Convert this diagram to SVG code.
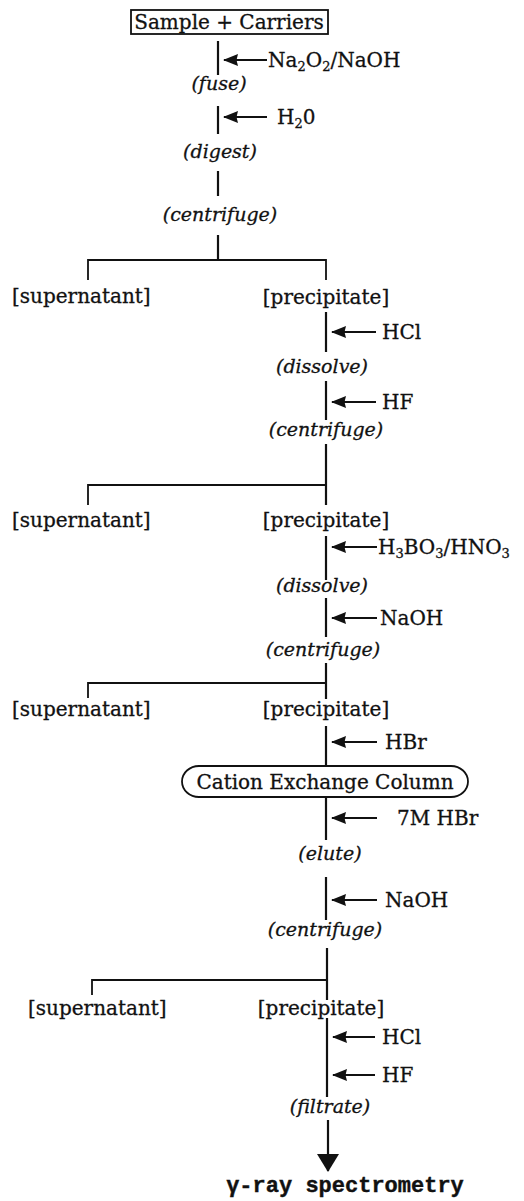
<svg xmlns="http://www.w3.org/2000/svg" width="524" height="1201" viewBox="0 0 524 1201">
<style>
.t{font-family:"DejaVu Serif","Liberation Serif",serif;font-size:20px;fill:#111;stroke:#111;stroke-width:0.3}
.i{font-family:"DejaVu Serif","Liberation Serif",serif;font-size:19px;font-style:italic;fill:#111;stroke:#111;stroke-width:0.3}
.s{font-size:13px}
.g{font-family:"Liberation Mono","DejaVu Sans Mono",monospace;font-size:22px;font-weight:bold;fill:#111;stroke:#111;stroke-width:0.4}
.l{stroke:#111;stroke-width:2.2;fill:none}
.h{stroke:#111;stroke-width:1.8;fill:none}
.a{stroke:#111;stroke-width:2.2;fill:none;marker-end:url(#ah)}
.b{stroke:#111;stroke-width:2.2;fill:none;marker-end:url(#ab)}
</style>
<defs>
<marker id="ah" viewBox="0 0 15 12" refX="14" refY="6" markerWidth="15" markerHeight="12" markerUnits="userSpaceOnUse" orient="auto">
<path d="M0,0 L15,6 L0,12 L1.5,6 Z" fill="#111"/>
</marker>
<marker id="ab" viewBox="0 0 18 22" refX="17" refY="11" markerWidth="18" markerHeight="22" markerUnits="userSpaceOnUse" orient="auto">
<path d="M0,0 L18,11 L0,22 Z" fill="#111"/>
</marker>
</defs>
<rect width="524" height="1201" fill="#fff"/>

<g id="connectors">
<line class="l" x1="218" y1="41" x2="218" y2="75"/>
<line class="a" x1="267" y1="60" x2="224" y2="60"/>
<line class="l" x1="218" y1="106" x2="218" y2="134"/>
<line class="a" x1="267" y1="117" x2="224" y2="117"/>
<line class="l" x1="218" y1="171" x2="218" y2="196"/>
<line class="l" x1="218" y1="235" x2="218" y2="261"/>
<polyline class="h" points="88,280 88,260 326,260 326,280"/>
<line class="l" x1="326" y1="312" x2="326" y2="352"/>
<line class="a" x1="376" y1="332" x2="332" y2="332"/>
<line class="l" x1="326" y1="381" x2="326" y2="420"/>
<line class="a" x1="376" y1="402" x2="332" y2="402"/>
<line class="l" x1="326" y1="444" x2="326" y2="505"/>
<polyline class="h" points="88,505 88,485 326,485"/>
<line class="l" x1="326" y1="536" x2="326" y2="580"/>
<line class="a" x1="377" y1="547" x2="332" y2="547"/>
<line class="l" x1="326" y1="598" x2="326" y2="637"/>
<line class="a" x1="377" y1="618" x2="332" y2="618"/>
<line class="l" x1="326" y1="663" x2="326" y2="699"/>
<polyline class="h" points="88,698 88,683 326,683"/>
<line class="l" x1="326" y1="726" x2="326" y2="766"/>
<line class="a" x1="377" y1="742" x2="332" y2="742"/>
<line class="l" x1="326" y1="798" x2="326" y2="840"/>
<line class="a" x1="377" y1="818" x2="332" y2="818"/>
<line class="l" x1="326" y1="877" x2="326" y2="920"/>
<line class="a" x1="377" y1="900" x2="332" y2="900"/>
<line class="l" x1="327" y1="948" x2="327" y2="1000"/>
<polyline class="h" points="92,995 92,980 327,980"/>
<line class="l" x1="327" y1="1018" x2="327" y2="1097"/>
<line class="a" x1="375" y1="1037" x2="333" y2="1037"/>
<line class="a" x1="375" y1="1075" x2="333" y2="1075"/>
<line class="b" x1="328" y1="1120" x2="328" y2="1171"/>
</g>

<g id="n-sample">
<rect x="131" y="10" width="197" height="24" fill="none" stroke="#111" stroke-width="1.8"/>
<text class="t" x="229" y="29" text-anchor="middle">Sample + Carriers</text>
</g>
<g id="r-na2o2"><text class="t" x="268" y="67">Na<tspan class="s" dy="4">2</tspan><tspan dy="-4">O</tspan><tspan class="s" dy="4">2</tspan><tspan dy="-4">/NaOH</tspan></text></g>
<g id="s-fuse"><text class="i" x="219" y="90" text-anchor="middle">(fuse)</text></g>
<g id="r-h2o"><text class="t" x="277" y="124">H<tspan class="s" dy="4">2</tspan><tspan dy="-4">0</tspan></text></g>
<g id="s-digest"><text class="i" x="220" y="158" text-anchor="middle">(digest)</text></g>
<g id="s-centrifuge1"><text class="i" x="220" y="221" text-anchor="middle">(centrifuge)</text></g>

<g id="n-super1"><text class="t" x="12" y="303">[supernatant]</text></g>
<g id="n-precip1"><text class="t" x="326" y="304" text-anchor="middle">[precipitate]</text></g>
<g id="r-hcl1"><text class="t" x="382" y="339">HCl</text></g>
<g id="s-dissolve1"><text class="i" x="322" y="373" text-anchor="middle">(dissolve)</text></g>
<g id="r-hf1"><text class="t" x="382" y="409">HF</text></g>
<g id="s-centrifuge2"><text class="i" x="326" y="436" text-anchor="middle">(centrifuge)</text></g>

<g id="n-super2"><text class="t" x="12" y="527">[supernatant]</text></g>
<g id="n-precip2"><text class="t" x="326" y="527" text-anchor="middle">[precipitate]</text></g>
<g id="r-h3bo3"><text class="t" x="378" y="554">H<tspan class="s" dy="4">3</tspan><tspan dy="-4">BO</tspan><tspan class="s" dy="4">3</tspan><tspan dy="-4">/HNO</tspan><tspan class="s" dy="4">3</tspan></text></g>
<g id="s-dissolve2"><text class="i" x="322" y="592" text-anchor="middle">(dissolve)</text></g>
<g id="r-naoh1"><text class="t" x="380" y="625">NaOH</text></g>
<g id="s-centrifuge3"><text class="i" x="323" y="656" text-anchor="middle">(centrifuge)</text></g>

<g id="n-super3"><text class="t" x="12" y="716">[supernatant]</text></g>
<g id="n-precip3"><text class="t" x="326" y="716" text-anchor="middle">[precipitate]</text></g>
<g id="r-hbr"><text class="t" x="385" y="749">HBr</text></g>
<g id="n-column">
<rect x="182" y="766" width="286" height="31" rx="17" ry="15.5" fill="none" stroke="#111" stroke-width="1.8"/>
<text class="t" x="325" y="789" text-anchor="middle">Cation Exchange Column</text>
</g>
<g id="r-7mhbr"><text class="t" x="397" y="825">7M HBr</text></g>
<g id="s-elute"><text class="i" x="330" y="860" text-anchor="middle">(elute)</text></g>
<g id="r-naoh2"><text class="t" x="385" y="907">NaOH</text></g>
<g id="s-centrifuge4"><text class="i" x="325" y="936" text-anchor="middle">(centrifuge)</text></g>

<g id="n-super4"><text class="t" x="28" y="1015">[supernatant]</text></g>
<g id="n-precip4"><text class="t" x="321" y="1015" text-anchor="middle">[precipitate]</text></g>
<g id="r-hcl2"><text class="t" x="382" y="1044">HCl</text></g>
<g id="r-hf2"><text class="t" x="382" y="1082">HF</text></g>
<g id="s-filtrate"><text class="i" x="330" y="1113" text-anchor="middle">(filtrate)</text></g>
<g id="n-gamma"><text class="g" x="345" y="1192" text-anchor="middle">γ-ray spectrometry</text></g>
</svg>
